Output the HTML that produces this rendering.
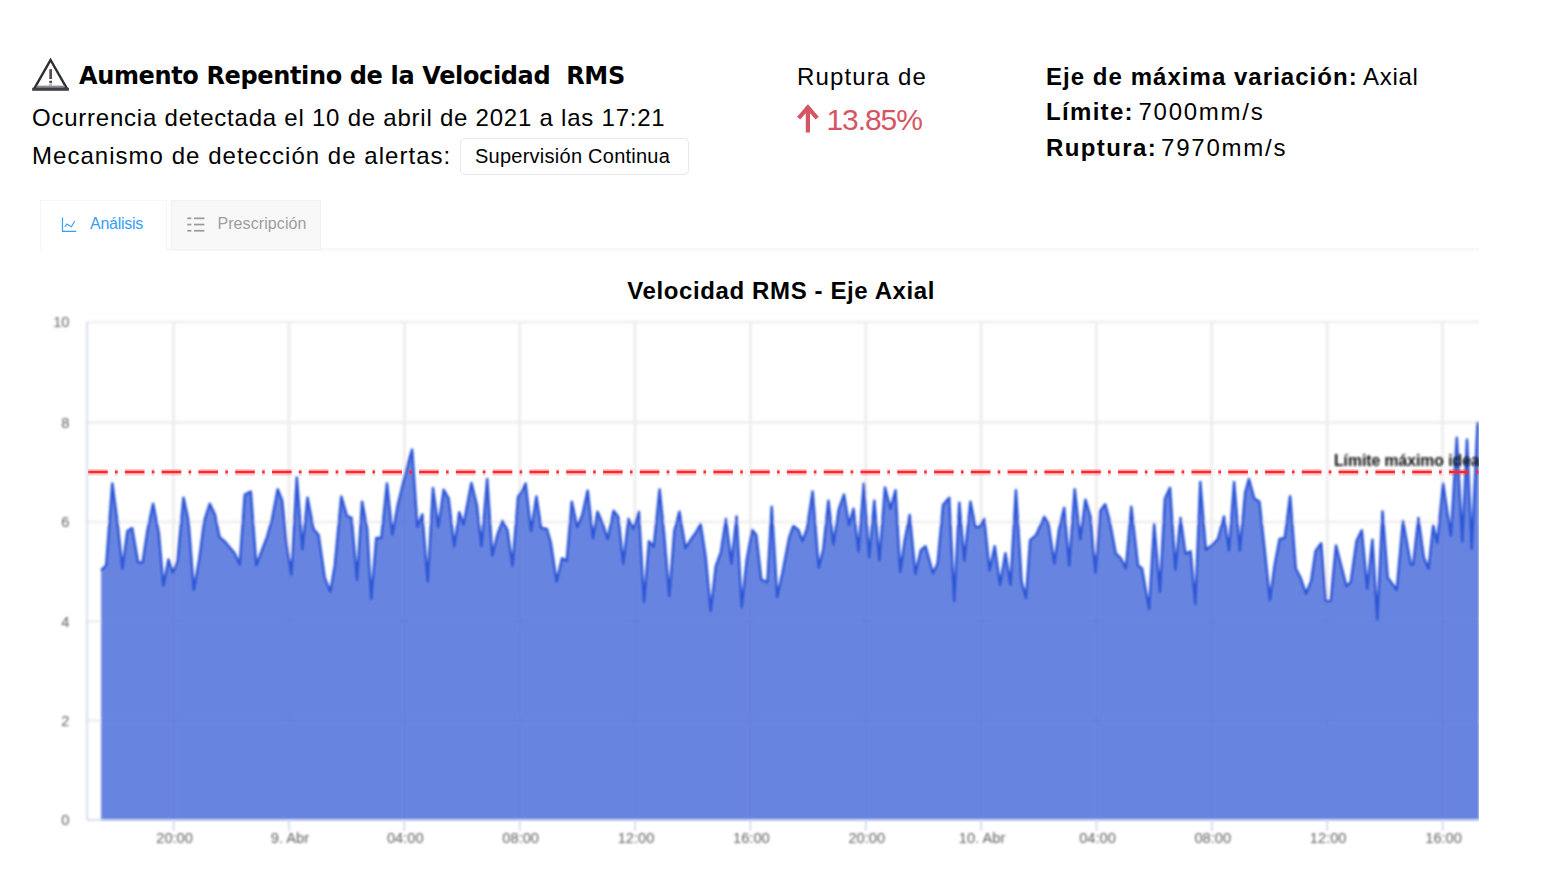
<!DOCTYPE html>
<html lang="es">
<head>
<meta charset="utf-8">
<title>Alerta</title>
<style>
html,body{margin:0;padding:0;background:#fff;}
body{width:1554px;height:890px;position:relative;overflow:hidden;font-family:"Liberation Sans","DejaVu Sans",sans-serif;color:#000;}
.abs{position:absolute;white-space:nowrap;line-height:1;}
#title{left:79px;top:63.6px;font-size:24px;font-weight:bold;font-family:"DejaVu Sans","Liberation Sans",sans-serif;letter-spacing:-0.36px;}
#l2{left:32px;top:106.4px;font-size:24px;letter-spacing:0.77px;}
#l3{left:32px;top:143.7px;font-size:24px;letter-spacing:1.03px;}
#badge{left:460px;top:138px;width:227px;height:35px;border:1px solid #e8e8e8;border-radius:5px;box-sizing:content-box;}
#badgetxt{left:475px;top:146px;font-size:20px;letter-spacing:0.25px;}
#rup{left:797px;top:64.5px;font-size:24px;letter-spacing:1.12px;}
#pct{left:826.5px;top:104.6px;font-size:30px;color:#d55662;letter-spacing:-1.07px;}
.r{font-size:24px;}
#r1b{left:1046px;top:64.5px;font-weight:bold;letter-spacing:1.04px;}
#r1v{left:1363px;top:64.5px;letter-spacing:0.7px;}
#r2b{left:1046px;top:100.4px;font-weight:bold;letter-spacing:1.32px;}
#r2v{left:1138.5px;top:100.4px;letter-spacing:1.74px;}
#r3b{left:1046px;top:135.7px;font-weight:bold;letter-spacing:1.4px;}
#r3v{left:1161px;top:135.7px;letter-spacing:1.78px;}
#tab1{left:40px;top:200px;width:127px;height:51px;border:1.5px solid #f6f6f6;border-bottom:none;box-sizing:border-box;background:#fff;}
#tab2{left:171px;top:200px;width:150px;height:50px;border:1px solid #f1f1f1;box-sizing:border-box;background:#f8f8f8;}
#tabline{left:40px;top:248px;width:1439px;height:3px;background:#f8f8f8;}
#t1txt{left:90px;top:215.5px;font-size:16px;color:#369ef6;letter-spacing:-0.26px;}
#t2txt{left:217.4px;top:215.5px;font-size:16px;color:#9e9e9e;letter-spacing:0.09px;}
#ctitle{left:627.3px;top:279.4px;font-size:24px;font-weight:bold;letter-spacing:0.61px;}
</style>
</head>
<body>
<svg class="abs" id="warn" style="left:26px;top:50px" width="50" height="46" viewBox="26 50 50 46">
  <defs><filter id="wb" x="-10%" y="-10%" width="120%" height="120%"><feGaussianBlur stdDeviation="0.55"/></filter></defs>
  <g filter="url(#wb)">
  <path d="M50.6 60 L66.8 88.4 L34.4 88.4 Z" fill="#fdfdfd" stroke="#2d2f36" stroke-width="2.4" stroke-linejoin="miter"/>
  <rect x="36.5" y="85.6" width="28.2" height="2.2" fill="#8c8c8c"/>
  <rect x="32.2" y="87.8" width="36.7" height="3" fill="#3d4047"/>
  <rect x="49.3" y="69.2" width="2.7" height="9.8" fill="#5a4b4b"/>
  <rect x="49.3" y="80.8" width="2.7" height="2.1" fill="#4a4040"/>
  <rect x="49.3" y="83.4" width="2.7" height="2.4" fill="#b5b5b5"/>
  </g>
</svg>
<div class="abs" id="title">Aumento Repentino de la Velocidad&nbsp; RMS</div>
<div class="abs" id="l2">Ocurrencia detectada el 10 de abril de 2021 a las 17:21</div>
<div class="abs" id="l3">Mecanismo de detección de alertas:</div>
<div class="abs" id="badge"></div>
<div class="abs" id="badgetxt">Supervisión Continua</div>
<div class="abs" id="rup">Ruptura de</div>
<svg class="abs" id="arrow" style="left:794px;top:102px" width="28" height="34" viewBox="794 102 28 34"><path d="M807.9 107.4 L800 116.6 M807.9 107.4 L815.8 116.6 M807.9 109 V130.3" fill="none" stroke="#d55662" stroke-width="4.2" stroke-linecap="square" stroke-linejoin="miter"/></svg>
<div class="abs" id="pct">13.85%</div>
<div class="abs r" id="r1b">Eje de máxima variación:</div><div class="abs r" id="r1v">Axial</div>
<div class="abs r" id="r2b">Límite:</div><div class="abs r" id="r2v">7000mm/s</div>
<div class="abs r" id="r3b">Ruptura:</div><div class="abs r" id="r3v">7970mm/s</div>
<div class="abs" id="tabline"></div>
<div class="abs" id="tab1"></div>
<div class="abs" id="tab2"></div>
<svg class="abs" id="ic1" style="left:58px;top:212px" width="24" height="24" viewBox="58 212 24 24"><path d="M62.5 217.4 V231.3 H76.2" fill="none" stroke="#369ef6" stroke-width="1.2"/><path d="M64.9 226.9 L66.8 224 L71.5 226.8 L74.7 221" fill="none" stroke="#369ef6" stroke-width="1.1"/></svg>
<svg class="abs" id="ic2" style="left:184px;top:212px" width="24" height="24" viewBox="184 212 24 24"><g fill="#9a9a9a"><rect x="187.3" y="217.5" width="4.1" height="1.7"/><rect x="194" y="217.5" width="10.4" height="1.7"/><rect x="187.3" y="223.7" width="4.1" height="1.7"/><rect x="194" y="223.7" width="10.4" height="1.7"/><rect x="187.3" y="229.9" width="4.1" height="1.7"/><rect x="194" y="229.9" width="10.4" height="1.7"/></g></svg>
<div class="abs" id="t1txt">Análisis</div>
<div class="abs" id="t2txt">Prescripción</div>
<div class="abs" id="ctitle">Velocidad RMS - Eje Axial</div>
<svg class="abs" id="chart" style="left:0;top:300px" width="1554" height="590" viewBox="0 300 1554 590">
<!--CHART-->
<defs><filter id="bl" filterUnits="userSpaceOnUse" x="0" y="300" width="1554" height="590"><feGaussianBlur stdDeviation="1.0"/></filter><filter id="br" filterUnits="userSpaceOnUse" x="0" y="455" width="1554" height="35"><feGaussianBlur stdDeviation="0.45"/></filter><filter id="bt" filterUnits="userSpaceOnUse" x="0" y="300" width="1554" height="590"><feGaussianBlur stdDeviation="0.9"/></filter><clipPath id="cp"><rect x="0" y="300" width="1479" height="590"/></clipPath></defs>
<g clip-path="url(#cp)">
<g filter="url(#bl)">
<line x1="87.0" x2="1484.0" y1="322.0" y2="322.0" stroke="#f1f1f1" stroke-width="3.2"/>
<line x1="87.0" x2="1484.0" y1="422.3" y2="422.3" stroke="#f1f1f1" stroke-width="3.2"/>
<line x1="87.0" x2="1484.0" y1="522.0" y2="522.0" stroke="#f1f1f1" stroke-width="3.2"/>
<line x1="87.0" x2="1484.0" y1="621.3" y2="621.3" stroke="#f1f1f1" stroke-width="3.2"/>
<line x1="87.0" x2="1484.0" y1="720.5" y2="720.5" stroke="#f1f1f1" stroke-width="3.2"/>
<line x1="173.6" x2="173.6" y1="322.0" y2="820.0" stroke="#eeeeee" stroke-width="3"/>
<line x1="289" x2="289" y1="322.0" y2="820.0" stroke="#eeeeee" stroke-width="3"/>
<line x1="404.3" x2="404.3" y1="322.0" y2="820.0" stroke="#eeeeee" stroke-width="3"/>
<line x1="519.7" x2="519.7" y1="322.0" y2="820.0" stroke="#eeeeee" stroke-width="3"/>
<line x1="635" x2="635" y1="322.0" y2="820.0" stroke="#eeeeee" stroke-width="3"/>
<line x1="750.4" x2="750.4" y1="322.0" y2="820.0" stroke="#eeeeee" stroke-width="3"/>
<line x1="865.8" x2="865.8" y1="322.0" y2="820.0" stroke="#eeeeee" stroke-width="3"/>
<line x1="981.1" x2="981.1" y1="322.0" y2="820.0" stroke="#eeeeee" stroke-width="3"/>
<line x1="1096.5" x2="1096.5" y1="322.0" y2="820.0" stroke="#eeeeee" stroke-width="3"/>
<line x1="1211.8" x2="1211.8" y1="322.0" y2="820.0" stroke="#eeeeee" stroke-width="3"/>
<line x1="1327.2" x2="1327.2" y1="322.0" y2="820.0" stroke="#eeeeee" stroke-width="3"/>
<line x1="1442.6" x2="1442.6" y1="322.0" y2="820.0" stroke="#eeeeee" stroke-width="3"/>
<path d="M101.1 570.5 L106.2 565.4 L112.3 483.5 L117.3 520.9 L122.4 568.6 L127.4 531 L132.1 528 L138.1 562.4 L142.6 562.4 L147.7 529 L153.1 503.7 L158.8 533.1 L163.4 585.8 L168.5 559.4 L172.9 572.5 L177.4 561.4 L183.5 497.7 L188.5 520.9 L193.8 589.9 L199.2 559.4 L204.3 520.9 L209.8 503.7 L215 514.9 L219.5 537.1 L224.5 541.2 L229.6 547.2 L234.6 553.3 L239.7 564.4 L244.8 494.6 L250.8 491.6 L256.3 565.4 L261.6 551.3 L267 537.1 L272.1 518.9 L277.7 489.2 L282.2 500.7 L286.2 541.2 L291.3 574.7 L296.8 477.4 L302.4 549.4 L307.5 497.7 L313.5 529 L318.6 535.1 L324.7 577.6 L330.3 591.7 L334.8 565.4 L341.3 496.6 L346.9 515.9 L351.6 517.9 L357 579.7 L362.1 501.7 L367.2 529 L371.2 599 L376.3 538.1 L381.3 538.1 L387 483.5 L392.4 534.6 L397.8 504.7 L403.1 483.4 L408.4 462 L412.1 449.6 L417.4 527 L422.3 514.3 L427.7 581.5 L433 488.1 L438.3 527.1 L443.7 489.8 L448.6 498.3 L454.3 546.3 L459.3 512.2 L463.5 524.8 L471.4 483 L476.8 504.7 L481.5 546.3 L487.2 479 L492.3 555.5 L497.3 535.1 L502.4 520.9 L507.4 530 L512.5 565.6 L518.1 496.6 L522.2 490.6 L525.6 483.5 L531.1 531.2 L536.4 496.6 L541.2 528 L546.9 529 L550.9 543.2 L556.6 581.8 L562 558.3 L566.7 560.9 L571.8 501.7 L577.2 527 L582.3 514.9 L587.7 490.6 L593 538.3 L597.5 511.8 L602.5 522.9 L607.6 539.3 L613.6 510.8 L618.3 516.9 L623.3 563.6 L628.4 518.9 L633.5 529 L638.9 511.8 L644 602 L649 541.2 L653.7 546.7 L659.6 489.6 L664.2 535.1 L669.3 595.9 L674.3 531 L679.4 511.8 L685.5 548.2 L690.5 540.1 L695.6 533.1 L700.6 524 L705.7 557.3 L710.7 611.1 L715.8 566.4 L720.9 552.3 L725.9 518.9 L731.4 563.6 L736.6 516.5 L741.7 607.1 L746.8 559.4 L752.2 530 L756.3 535.1 L761.3 579.6 L767.4 582.1 L771.7 506.8 L777.2 596.9 L782.3 573.5 L789.3 537.1 L793.4 526 L798.4 530 L802.5 541.1 L806.9 529 L812.6 491.6 L818.7 567.6 L823.3 549.2 L828.4 500.7 L833.4 544.3 L838.9 508.8 L844 494.6 L849 525.1 L853.5 508.8 L858.5 551.4 L863.8 483.5 L869.2 557.5 L874.3 500.7 L879.4 560.5 L885 487.5 L890.5 508.9 L895.5 490.2 L900.2 571.7 L904.6 541.2 L909.7 514.9 L915.4 573.7 L920.8 550.3 L925.5 546.2 L933 573.5 L937.6 563.4 L943.1 504.7 L949.2 497.7 L954.2 601 L959.3 502.7 L964.3 560.5 L970.4 501.7 L975.5 527 L979.5 527 L984.2 518.9 L989.6 570.6 L994.7 546.2 L1000.1 584.8 L1005.4 553.3 L1010.5 584.8 L1015.9 490.2 L1021.6 581.6 L1026 598 L1030.1 540.1 L1036.1 535.1 L1044.2 516.9 L1048.3 522.9 L1054.4 563.6 L1059.1 529 L1064.2 507.8 L1069.2 565.6 L1074.7 489.2 L1080.3 539.3 L1085.4 499.7 L1090.5 516.9 L1095.5 572.7 L1100.2 510.8 L1105.2 504.3 L1109.7 520.9 L1115.7 553.3 L1120.8 558.3 L1125.9 568.4 L1131.3 506.8 L1138 565.4 L1142 568.5 L1149.1 609.1 L1154.2 524 L1159.9 591.9 L1164.9 498.7 L1170 487.9 L1175.4 569.6 L1180.5 517.9 L1185.5 553.8 L1190.6 551.3 L1195.3 604 L1200.3 482.1 L1205.8 549.7 L1211.8 545.2 L1217.9 539.1 L1224 516.5 L1229 550.4 L1234.1 482.1 L1239.8 550.4 L1245.2 492.6 L1248.9 479 L1254.3 498.7 L1259.4 501.7 L1264.4 547.2 L1269.9 600 L1274.6 565.4 L1279.6 539.1 L1284.7 538.1 L1290.1 496.2 L1295.8 568.5 L1300.9 578.6 L1305.9 593.7 L1311 581.6 L1315.6 550.9 L1321.2 543.3 L1325.9 601.1 L1330.6 601.1 L1336 545.6 L1341.2 565.7 L1346.4 586.1 L1350.7 582.2 L1356.6 540.9 L1361.8 530.3 L1367.2 588.8 L1372.4 539.7 L1377.3 619.4 L1382.5 511.4 L1387.7 577.5 L1396.7 589.9 L1403 520.9 L1410.8 564.5 L1413.2 564.5 L1418.4 518 L1423.8 557.4 L1428.5 568.7 L1433.2 525.6 L1437.2 542.8 L1443.1 483.6 L1450.9 535.7 L1456.8 437.8 L1462.3 541.6 L1467 439.5 L1471.7 548.7 L1477.6 423 L1479 423 L1479 820 L101.1 820 Z" fill="#4266da" fill-opacity="0.8"/>
<path d="M101.1 570.5 L106.2 565.4 L112.3 483.5 L117.3 520.9 L122.4 568.6 L127.4 531 L132.1 528 L138.1 562.4 L142.6 562.4 L147.7 529 L153.1 503.7 L158.8 533.1 L163.4 585.8 L168.5 559.4 L172.9 572.5 L177.4 561.4 L183.5 497.7 L188.5 520.9 L193.8 589.9 L199.2 559.4 L204.3 520.9 L209.8 503.7 L215 514.9 L219.5 537.1 L224.5 541.2 L229.6 547.2 L234.6 553.3 L239.7 564.4 L244.8 494.6 L250.8 491.6 L256.3 565.4 L261.6 551.3 L267 537.1 L272.1 518.9 L277.7 489.2 L282.2 500.7 L286.2 541.2 L291.3 574.7 L296.8 477.4 L302.4 549.4 L307.5 497.7 L313.5 529 L318.6 535.1 L324.7 577.6 L330.3 591.7 L334.8 565.4 L341.3 496.6 L346.9 515.9 L351.6 517.9 L357 579.7 L362.1 501.7 L367.2 529 L371.2 599 L376.3 538.1 L381.3 538.1 L387 483.5 L392.4 534.6 L397.8 504.7 L403.1 483.4 L408.4 462 L412.1 449.6 L417.4 527 L422.3 514.3 L427.7 581.5 L433 488.1 L438.3 527.1 L443.7 489.8 L448.6 498.3 L454.3 546.3 L459.3 512.2 L463.5 524.8 L471.4 483 L476.8 504.7 L481.5 546.3 L487.2 479 L492.3 555.5 L497.3 535.1 L502.4 520.9 L507.4 530 L512.5 565.6 L518.1 496.6 L522.2 490.6 L525.6 483.5 L531.1 531.2 L536.4 496.6 L541.2 528 L546.9 529 L550.9 543.2 L556.6 581.8 L562 558.3 L566.7 560.9 L571.8 501.7 L577.2 527 L582.3 514.9 L587.7 490.6 L593 538.3 L597.5 511.8 L602.5 522.9 L607.6 539.3 L613.6 510.8 L618.3 516.9 L623.3 563.6 L628.4 518.9 L633.5 529 L638.9 511.8 L644 602 L649 541.2 L653.7 546.7 L659.6 489.6 L664.2 535.1 L669.3 595.9 L674.3 531 L679.4 511.8 L685.5 548.2 L690.5 540.1 L695.6 533.1 L700.6 524 L705.7 557.3 L710.7 611.1 L715.8 566.4 L720.9 552.3 L725.9 518.9 L731.4 563.6 L736.6 516.5 L741.7 607.1 L746.8 559.4 L752.2 530 L756.3 535.1 L761.3 579.6 L767.4 582.1 L771.7 506.8 L777.2 596.9 L782.3 573.5 L789.3 537.1 L793.4 526 L798.4 530 L802.5 541.1 L806.9 529 L812.6 491.6 L818.7 567.6 L823.3 549.2 L828.4 500.7 L833.4 544.3 L838.9 508.8 L844 494.6 L849 525.1 L853.5 508.8 L858.5 551.4 L863.8 483.5 L869.2 557.5 L874.3 500.7 L879.4 560.5 L885 487.5 L890.5 508.9 L895.5 490.2 L900.2 571.7 L904.6 541.2 L909.7 514.9 L915.4 573.7 L920.8 550.3 L925.5 546.2 L933 573.5 L937.6 563.4 L943.1 504.7 L949.2 497.7 L954.2 601 L959.3 502.7 L964.3 560.5 L970.4 501.7 L975.5 527 L979.5 527 L984.2 518.9 L989.6 570.6 L994.7 546.2 L1000.1 584.8 L1005.4 553.3 L1010.5 584.8 L1015.9 490.2 L1021.6 581.6 L1026 598 L1030.1 540.1 L1036.1 535.1 L1044.2 516.9 L1048.3 522.9 L1054.4 563.6 L1059.1 529 L1064.2 507.8 L1069.2 565.6 L1074.7 489.2 L1080.3 539.3 L1085.4 499.7 L1090.5 516.9 L1095.5 572.7 L1100.2 510.8 L1105.2 504.3 L1109.7 520.9 L1115.7 553.3 L1120.8 558.3 L1125.9 568.4 L1131.3 506.8 L1138 565.4 L1142 568.5 L1149.1 609.1 L1154.2 524 L1159.9 591.9 L1164.9 498.7 L1170 487.9 L1175.4 569.6 L1180.5 517.9 L1185.5 553.8 L1190.6 551.3 L1195.3 604 L1200.3 482.1 L1205.8 549.7 L1211.8 545.2 L1217.9 539.1 L1224 516.5 L1229 550.4 L1234.1 482.1 L1239.8 550.4 L1245.2 492.6 L1248.9 479 L1254.3 498.7 L1259.4 501.7 L1264.4 547.2 L1269.9 600 L1274.6 565.4 L1279.6 539.1 L1284.7 538.1 L1290.1 496.2 L1295.8 568.5 L1300.9 578.6 L1305.9 593.7 L1311 581.6 L1315.6 550.9 L1321.2 543.3 L1325.9 601.1 L1330.6 601.1 L1336 545.6 L1341.2 565.7 L1346.4 586.1 L1350.7 582.2 L1356.6 540.9 L1361.8 530.3 L1367.2 588.8 L1372.4 539.7 L1377.3 619.4 L1382.5 511.4 L1387.7 577.5 L1396.7 589.9 L1403 520.9 L1410.8 564.5 L1413.2 564.5 L1418.4 518 L1423.8 557.4 L1428.5 568.7 L1433.2 525.6 L1437.2 542.8 L1443.1 483.6 L1450.9 535.7 L1456.8 437.8 L1462.3 541.6 L1467 439.5 L1471.7 548.7 L1477.6 423 L1479 423" fill="none" stroke="#2c55d6" stroke-width="2.5" stroke-linejoin="round"/>
</g><g filter="url(#br)">
<line x1="88.1" x2="1484.0" y1="472.2" y2="472.2" stroke="#ff3030" stroke-opacity="0.26" stroke-width="6.4" stroke-dasharray="19.6 7.3 2.6 7.28"/>
<line x1="88.1" x2="1484.0" y1="472" y2="472" stroke="#ff2830" stroke-width="2.3" stroke-dasharray="19.6 7.3 2.6 7.28"/>
</g><g filter="url(#bl)">
<line x1="87.0" x2="87.0" y1="322.0" y2="820.0" stroke="#ccd6eb" stroke-width="1.6"/>
<line x1="87.0" x2="1484.0" y1="820.0" y2="820.0" stroke="#ccd6eb" stroke-width="1.6"/>
<line x1="173.6" x2="173.6" y1="820.0" y2="831.0" stroke="#ccd6eb" stroke-width="1.6"/>
<line x1="289" x2="289" y1="820.0" y2="831.0" stroke="#ccd6eb" stroke-width="1.6"/>
<line x1="404.3" x2="404.3" y1="820.0" y2="831.0" stroke="#ccd6eb" stroke-width="1.6"/>
<line x1="519.7" x2="519.7" y1="820.0" y2="831.0" stroke="#ccd6eb" stroke-width="1.6"/>
<line x1="635" x2="635" y1="820.0" y2="831.0" stroke="#ccd6eb" stroke-width="1.6"/>
<line x1="750.4" x2="750.4" y1="820.0" y2="831.0" stroke="#ccd6eb" stroke-width="1.6"/>
<line x1="865.8" x2="865.8" y1="820.0" y2="831.0" stroke="#ccd6eb" stroke-width="1.6"/>
<line x1="981.1" x2="981.1" y1="820.0" y2="831.0" stroke="#ccd6eb" stroke-width="1.6"/>
<line x1="1096.5" x2="1096.5" y1="820.0" y2="831.0" stroke="#ccd6eb" stroke-width="1.6"/>
<line x1="1211.8" x2="1211.8" y1="820.0" y2="831.0" stroke="#ccd6eb" stroke-width="1.6"/>
<line x1="1327.2" x2="1327.2" y1="820.0" y2="831.0" stroke="#ccd6eb" stroke-width="1.6"/>
<line x1="1442.6" x2="1442.6" y1="820.0" y2="831.0" stroke="#ccd6eb" stroke-width="1.6"/>
</g>
<g filter="url(#bt)" font-family="'Liberation Sans',sans-serif">
<text x="1334" y="466.3" font-size="15.7" font-weight="bold" fill="#111">Límite máximo ideal</text>
<g font-size="14.67" fill="#606060" text-anchor="end">
<text x="69.5" y="327.2">10</text>
<text x="69.5" y="427.5">8</text>
<text x="69.5" y="527.2">6</text>
<text x="69.5" y="626.5">4</text>
<text x="69.5" y="725.7">2</text>
<text x="69.5" y="825.2">0</text>
</g>
<g font-size="14.67" fill="#606060" text-anchor="middle">
<text x="174.6" y="843">20:00</text>
<text x="290" y="843">9. Abr</text>
<text x="405.3" y="843">04:00</text>
<text x="520.7" y="843">08:00</text>
<text x="636" y="843">12:00</text>
<text x="751.4" y="843">16:00</text>
<text x="866.8" y="843">20:00</text>
<text x="982.1" y="843">10. Abr</text>
<text x="1097.5" y="843">04:00</text>
<text x="1212.8" y="843">08:00</text>
<text x="1328.2" y="843">12:00</text>
<text x="1443.6" y="843">16:00</text>
</g></g></g>
<!--/CHART-->
</svg>
</body>
</html>
